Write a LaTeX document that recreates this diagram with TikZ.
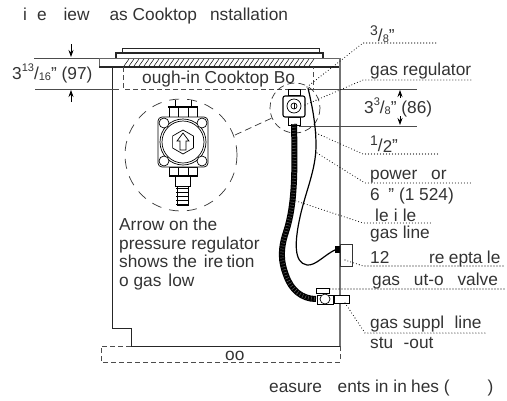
\documentclass[tikz,border=0pt]{standalone}
\usepackage{fontspec}
\setmainfont{Liberation Sans}
\usetikzlibrary{arrows.meta}
\newcommand{\fracup}[1]{\raisebox{.42em}{\fontsize{11}{11}\selectfont #1}}
\newcommand{\fracdown}[1]{\raisebox{-.1em}{\fontsize{11}{11}\selectfont #1}}
\newcommand{\bigup}[1]{\raisebox{.3em}{\fontsize{14}{14}\selectfont #1}}
\newcommand{\bigdown}[1]{\raisebox{-.1em}{\fontsize{17}{17}\selectfont #1}}
\begin{document}
\begin{tikzpicture}
[x=1pt, y=-1pt,
 label/.style={anchor=base west, inner sep=0pt, text=black!80, font=\fontsize{17.3}{19}\selectfont},
 solid line/.style={draw=black!85, line width=0.9pt},
 wall/.style={draw=black!55, line width=1.2pt},
 hidden/.style={draw=black!70, line width=0.8pt, dash pattern=on 5pt off 3pt},
 zoomring/.style={draw=black!80, line width=0.7pt, dash pattern=on 10pt off 8pt},
 leader/.style={draw=black, line width=1.1pt, line cap=round, dash pattern=on 0pt off 3pt},
 dimline/.style={draw=black!70, line width=0.8pt},
 dimarrow/.style={draw=black, line width=0.8pt, -{Stealth[length=7pt,width=5pt]}},
 part/.style={draw=black, line width=0.7pt, fill=white},
]
\useasboundingbox (0,0) rectangle (507,400);

%title
\node[label] (title) at (23,20) {i\hspace{10pt}e\hspace{17pt}iew\hspace{20pt}as Cooktop\hspace{13pt}nstallation};

%cooktop
\draw[solid line] (122,53) -- (122,48) -- (319,48) -- (319,53);
\draw[solid line, line width=1.2pt] (116,58) -- (116,53) -- (323,53) -- (323,58);

%counter
\draw[solid line, draw=black!60] (99,67) -- (99,58) -- (340,58);
\draw[solid line, line width=1.2pt] (99,67) -- (340,67);
\foreach \hx in {124,129,...,309}
  \draw[black, line width=0.5pt] (\hx,66) -- (\hx+5,59);

%cabinet
\draw[solid line] (112,67) -- (112,328) -- (131,328) -- (131,346) -- (340,346);
\draw[wall] (340,58) -- (340,346);

%rough-in box
\draw[hidden] (123,67) -- (123,89) -- (313,89) -- (313,67);
\node[label] (roughin) at (142,83) {ough-in Cooktop Bo};

%toe kick
\draw[hidden] (131,346) -- (101,346) -- (101,362) -- (340,362) -- (340,346);
\node[label] (toe) at (225,360) {oo};

%left dimension
\draw[dimline] (34,58) -- (99,58);
\draw[dimline] (35,89) -- (119,89);
\draw[dimarrow] (71,44) -- (71,57);
\draw[dimarrow] (71,102) -- (71,90);
\node[label] (leftdim) at (12,79) {3\fracup{13}/\fracdown{16}" (97)};

%right dimension
\draw[dimline] (308,89) -- (417,89);
\draw[dimline] (299,126) -- (417,126);
\draw[dimarrow] (400,98) -- (400,90);
\draw[dimarrow] (400,116) -- (400,125);
\node[label] (rightdim) at (364,113) {3\fracup{3}/\fracdown{8}" (86)};

%zoom rings
\draw[zoomring] (181,155) circle (56);
\draw[zoomring, dash pattern=on 7pt off 4pt] (295,108) circle (25);
\draw[zoomring, dash pattern=on 7pt off 4pt] (235,135) -- (272,118);

%large regulator
\draw[part] (175,100) -- (175,107) -- (191,107) -- (191,100);
\draw[part] (169,107) rectangle (197,117);
\draw[part] (178,107) -- (178,117) (188,107) -- (188,117);
\draw[part, line width=1.1pt] (168,107) -- (198,107);
\draw[part] (177,185) rectangle (188,205);
\foreach \ry in {188,192,...,204}
  \draw[part] (176,\ry) -- (189,\ry);
\draw[part] (175,176) rectangle (190,186);
\draw[part] (169,167) rectangle (197,176);
\draw[part] (178,167) -- (178,176) (188,167) -- (188,176);
\draw[part, line width=1.3pt] (169,176) -- (197,176);
\draw[part, rounded corners=4pt] (158,117) rectangle (208,167);
\draw[part] (183,142) circle (23);
\draw[part] (164,123) circle (5);
\draw[part] (202,123) circle (5);
\draw[part] (164,161) circle (5);
\draw[part] (202,161) circle (5);
\draw[part] (183,142) circle (21);
\draw[part] (172.6,136) -- (183,130) -- (193.4,136) -- (193.4,148) -- (183,154) -- (172.6,148) -- cycle;
\draw[part] (180,150) -- (180,141) -- (177,141) -- (183,133) -- (189,141) -- (186,141) -- (186,150) -- cycle;

%small regulator
\draw[part] (288,89) rectangle (300,95);
\draw[part] (288,117) rectangle (300,125);
\draw[part, line width=1.1pt, rounded corners=2pt] (283,96) rectangle (305,117);
\draw[part] (294,106) circle (7);
\draw[part] (294,106) circle (3);
\draw[black, line width=0.8pt] (294,103) -- (294,109);

%gas hose
\draw[black, line width=6pt] (294,124) .. controls (295,170) and (295,205) .. (286,232) .. controls (280,250) and (281,262) .. (286,275) .. controls (291,290) and (302,299) .. (316,299);
\draw[black!60, line width=4pt, dash pattern=on 0.5pt off 2.5pt] (294,124) .. controls (295,170) and (295,205) .. (286,232) .. controls (280,250) and (281,262) .. (286,275) .. controls (291,290) and (302,299) .. (316,299);

%power cord
\draw[black, line width=1.2pt] (308,88) .. controls (312,105) and (316,125) .. (316,145) .. controls (316,170) and (306,190) .. (300,217) .. controls (295,240) and (293,263) .. (307,265) .. controls (316,266) and (325,254) .. (337,249);
\fill[black] (335,246) rectangle (340,253);

%receptacle
\draw[solid line, draw=black!80, line width=0.7pt] (340,244) rectangle (352,266);

%valve
\draw[part] (316,288) rectangle (329,293);
\draw[part] (325,293) -- (325,295);
\draw[part] (317,295) rectangle (333,304);
\draw[part] (325,299) circle (5);

%stub-out
\draw[part] (334,295) rectangle (349,303);

%leaders
\coordinate (tipa) at (363,43);
\coordinate (tipb) at (363,80);
\coordinate (tipc) at (363,154);
\coordinate (tipd) at (365,183);
\coordinate (tipe) at (363,223);
\coordinate (tipf) at (363,266);
\coordinate (tipg) at (365,333);
\draw[leader] (307,87) -- (tipa) -- (438,43);
\draw[leader] (305,105) -- (tipb) -- (473,80);
\draw[leader] (316,133) -- (tipc) -- (438,154);
\draw[leader] (317,153) -- (tipd) -- (473,183);
\draw[leader] (293,200) -- (tipe) -- (432,223);
\draw[leader] (345,260) -- (tipf) -- (504,266);
\draw[leader] (330,289) -- (505,289);
\draw[leader] (345,303) -- (tipg) -- (485,333);

%right labels
\node[label] (threeeighth) at (370,41) {\bigup{3}/\fracdown{8}"};
\node[label] (regulator) at (370,75) {gas regulator};
\node[label] (half) at (370,151) {\bigup{1}/\bigdown{2}"};
\node[label] (power) at (370,179) {power\hspace{.8em}or};
\node[label] (length) at (370,200) {6\hspace{.5em}" (1 524)};
\node[label] (flex) at (375,221) {le\hspace{.3em}i\hspace{.3em}le};
\node[label] (gasline) at (370,238) {gas line};
\node[label] (recept) at (370,263) {12\hspace{2.3em}re\hspace{.25em}epta\hspace{.25em}le};
\node[label] (shutoff) at (372,285) {gas\hspace{.8em}ut-o\hspace{.8em}valve};
\node[label] (supply) at (370,328) {gas suppl\hspace{.6em}line};
\node[label] (stub) at (370,348) {stu\hspace{.6em}-out};

%arrow note
\node[label] (notea) at (119,230) {Arrow on the};
\node[label] (noteb) at (119,249) {pressure regulator};
\node[label] (notec) at (119,267) {shows the\hspace{.4em}ire\hspace{.2em}tion};
\node[label] (noted) at (119,286) {o gas\hspace{.4em}low};

%footer
\node[label] (units) at (269,392) {easure\hspace{.9em}ents in in\hspace{.25em}hes (\hspace{2.2em})};

\end{tikzpicture}
\end{document}
